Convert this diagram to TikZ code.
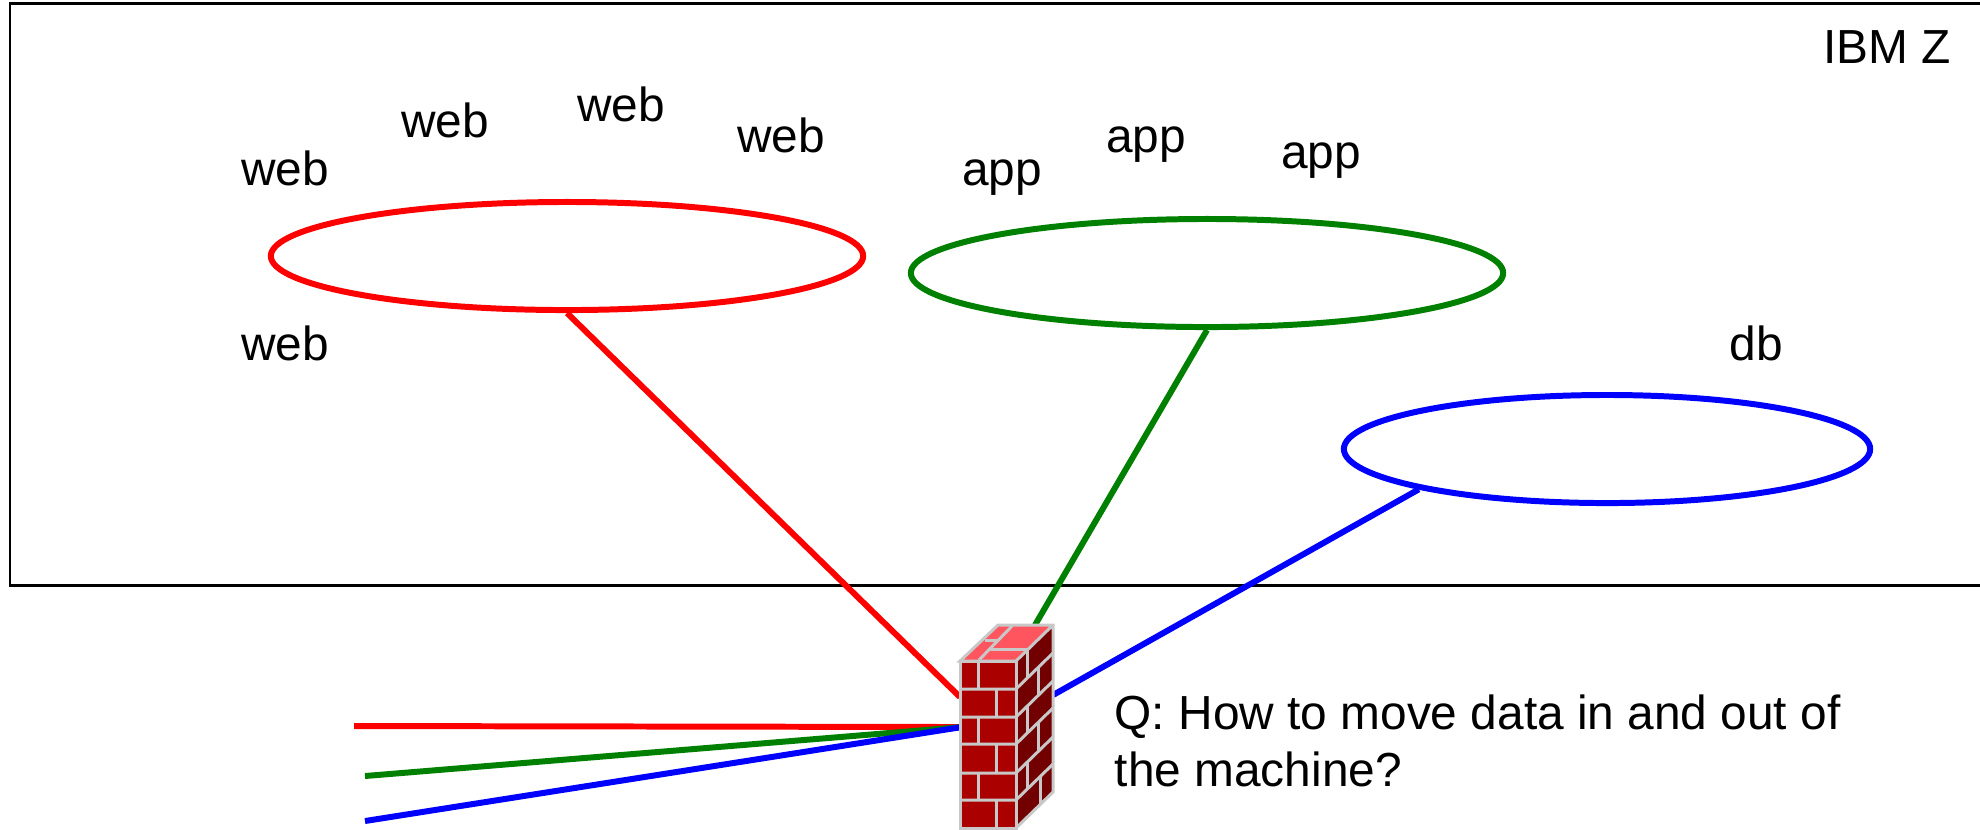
\documentclass[tikz,border=0pt]{standalone}
\usepackage{fontspec}
\setmainfont{Liberation Sans}
\usetikzlibrary{shapes.geometric}
\definecolor{zgreen}{RGB}{0,128,0}
\definecolor{brickfront}{RGB}{170,0,0}
\definecolor{brickside}{RGB}{115,0,0}
\definecolor{bricktop}{RGB}{255,85,95}
\definecolor{mortar}{RGB}{200,200,200}
\tikzset{
    tierring/.style={
        ellipse,
        draw,
        line width=1.7pt,
        minimum height=1.08cm,
        inner sep=0
    },
    tierlink/.style={
        line width=1.7pt
    },
    label/.style={
        font=\fontsize{13.6}{16.2}\selectfont,
        inner sep=0
    },
    brickline/.style={
        draw=mortar,
        line width=0.85pt
    }
}

\begin{document}
\begin{tikzpicture}[x=0.01cm,y=-0.01cm]
    \useasboundingbox (0,0) rectangle (1980,829);
    % machine frame
    \draw[line width=0.85pt] (1980,3) -- (10,3) -- (10,585) -- (1980,585);
    \node[label] (ibmz) at (1887,47) {IBM Z};
    % tiers
    \node[tierring, draw=red, minimum width=5.92cm] (webring) at (567,256) {};
    \node[tierring, draw=zgreen, minimum width=5.92cm] (appring) at (1207,273) {};
    \node[tierring, draw=blue, minimum width=5.26cm] (dbring) at (1607,449) {};
    \node[label] (web1) at (285,168) {web};
    \node[label] (web2) at (445,120) {web};
    \node[label] (web3) at (621,104) {web};
    \node[label] (web4) at (781,135) {web};
    \node[label] (web5) at (285,343) {web};
    \node[label] (app1) at (1002,178) {app};
    \node[label] (app2) at (1146,145) {app};
    \node[label] (app3) at (1321,161) {app};
    \node[label] (db1) at (1756,343) {db};
    \node[label, anchor=west, align=left] (question) at (1114,741)
        {Q: How to move data in and out of\\the machine?};
    % wall anchors and free ends
    \coordinate (wallred) at (960,697);
    \coordinate (wallgreen) at (1035,625);
    \coordinate (wallblue) at (1053,695);
    \coordinate (wallin) at (962,727);
    \coordinate (redend) at (354,726);
    \coordinate (greenend) at (365,776);
    \coordinate (blueend) at (365,821);
    % links
    \draw[tierlink, red] (webring.south) -- (wallred);
    \draw[tierlink, zgreen] (appring.south) -- (wallgreen);
    \draw[tierlink, blue] (dbring.south west) -- (wallblue);
    \draw[tierlink, red] (redend) -- (wallin);
    \draw[tierlink, zgreen] (greenend) -- (wallin);
    \draw[tierlink, blue] (blueend) -- (wallin);
    % firewall
    \fill[brickfront] (960,661) rectangle (1016,828);
    \fill[brickside] (1016,661) -- (1053,625) -- (1053,792) -- (1016,828) -- cycle;
    \fill[bricktop] (960,661) -- (1016,661) -- (1053,625) -- (998,625) -- cycle;
    \foreach \y in {689,717,744,773,800} {
        \draw[brickline] (960,\y) -- (1016,\y) -- (1053,\y-36);
    }
    \foreach \y/\z/\x in {661/689/978,689/717/996,717/744/978,744/773/996,773/800/978,800/828/996} {
        \draw[brickline] (\x,\y) -- (\x,\z);
    }
    \foreach \y/\z/\x in {661/689/1027,689/717/1038,717/744/1027,744/773/1038,773/800/1027,800/828/1040} {
        \draw[brickline] (\x,{\y-(\x-1016)*0.97}) -- (\x,{\z-(\x-1016)*0.97});
    }
    % top bricks
    \draw[brickline] (1012,626) -- (979,660);
    \draw[brickline] (985,640) -- (997,640);
    \draw[brickline] (988,649) -- (1029,649);
    \draw[brickline] (960,661) rectangle (1016,828);
    \draw[brickline] (1016,828) -- (1053,792) -- (1053,625) -- (998,625) -- (960,661) -- (1016,661) -- (1053,625);
\end{tikzpicture}
\end{document}
